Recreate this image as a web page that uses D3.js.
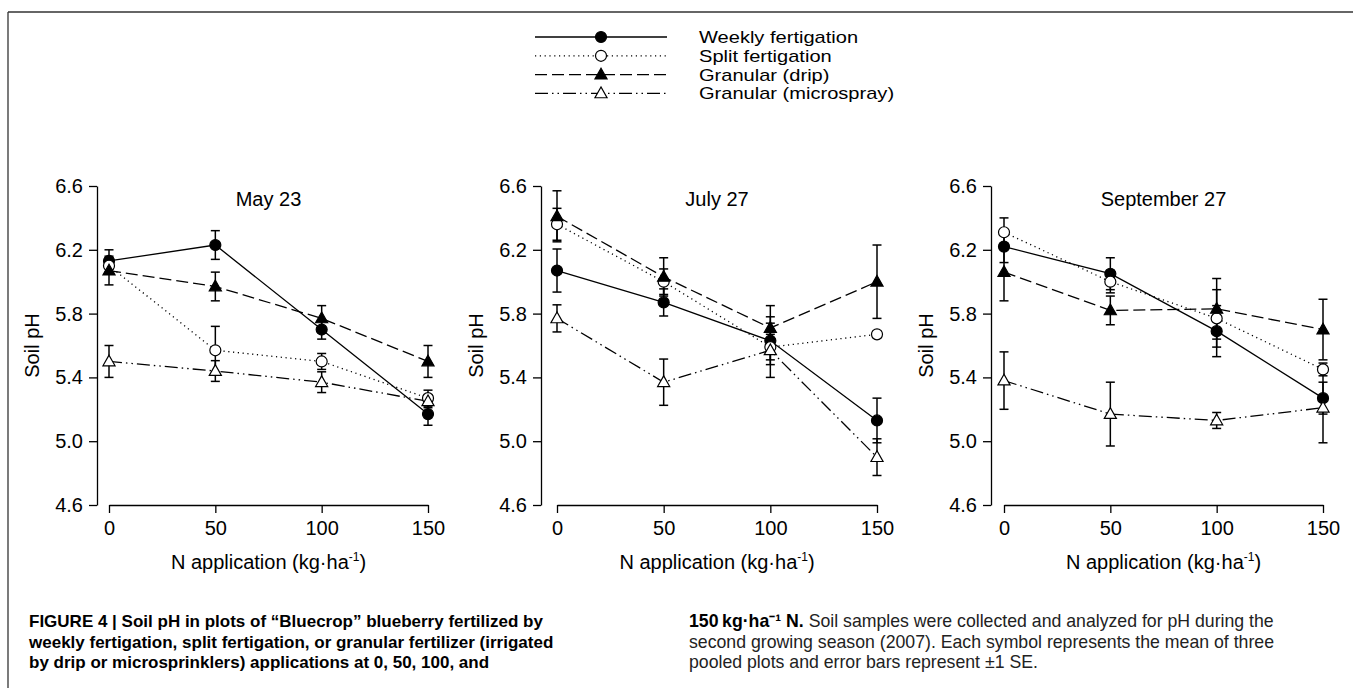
<!DOCTYPE html>
<html>
<head>
<meta charset="utf-8">
<script src="https://cdn.jsdelivr.net/npm/d3@7"></script>
<style>
  html, body { margin: 0; padding: 0; background: #fff; }
  svg { display: block; }
  text { font-family: "Liberation Sans", Arial, Helvetica, sans-serif; fill: #000; }
  .cap { font-family: "Liberation Sans Narrow", "Liberation Sans", Arial, sans-serif; font-stretch: condensed; }
</style>
</head>
<body>
<svg id="chart" width="1353" height="688"></svg>
<script>
// ---------------- data ----------------
const doses = [0, 50, 100, 150];
const xTicks = [0, 50, 100, 150];
const yTicks = [4.6, 5.0, 5.4, 5.8, 6.2, 6.6];
const panelTitles = ["May 23", "July 27", "September 27"];
const seriesNames = ["Weekly fertigation", "Split fertigation", "Granular (drip)", "Granular (microspray)"];

// mean soil pH per panel (rows: weekly, split, drip, microspray)
const may23Means = [
  [6.13, 6.23, 5.70, 5.17],
  [6.10, 5.57, 5.50, 5.27],
  [6.07, 5.97, 5.77, 5.50],
  [5.50, 5.44, 5.37, 5.25]
];
const may23SE = [
  [0.07, 0.09, 0.06, 0.07],
  [0.05, 0.15, 0.05, 0.05],
  [0.09, 0.09, 0.08, 0.10],
  [0.10, 0.065, 0.065, 0.04]
];
const july27Means = [
  [6.07, 5.87, 5.63, 5.13],
  [6.36, 6.00, 5.59, 5.67],
  [6.41, 6.03, 5.71, 6.00],
  [5.77, 5.37, 5.57, 4.90]
];
const july27SE = [
  [0.135, 0.085, 0.15, 0.14],
  [0.10, 0.08, 0.08, 0.02],
  [0.16, 0.12, 0.14, 0.23],
  [0.085, 0.145, 0.17, 0.115]
];
const sep27Means = [
  [6.22, 6.05, 5.69, 5.27],
  [6.31, 6.00, 5.77, 5.45],
  [6.06, 5.82, 5.83, 5.70],
  [5.38, 5.17, 5.13, 5.21]
];
const sep27SE = [
  [0.10, 0.10, 0.16, 0.10],
  [0.09, 0.07, 0.18, 0.04],
  [0.18, 0.09, 0.19, 0.19],
  [0.18, 0.20, 0.05, 0.22]
];

const captionLeft = [
  "FIGURE 4 | Soil pH in plots of \u201cBluecrop\u201d blueberry fertilized by",
  "weekly fertigation, split fertigation, or granular fertilizer (irrigated",
  "by drip or microsprinklers) applications at 0, 50, 100, and"
];
const captionRightBold = "150\u2009kg\u00b7ha\u207b\u00b9 N.";
const captionRight = [
  " Soil samples were collected and analyzed for pH during the",
  "second growing season (2007). Each symbol represents the mean of three",
  "pooled plots and error bars represent \u00b11 SE."
];

// ---------------- styles ----------------
const panelsData = [
  { title: panelTitles[0], means: may23Means, se: may23SE },
  { title: panelTitles[1], means: july27Means, se: july27SE },
  { title: panelTitles[2], means: sep27Means, se: sep27SE }
];
const layout = [
  { axisX: 97, x0: 109, x1: 428 },
  { axisX: 541, x0: 557, x1: 877 },
  { axisX: 991, x0: 1004, x1: 1323 }
];
const yTop = 186, yBot = 505;
const dashes = [null, "1.2,3.6", "12,5", "13,4,1.5,4,1.5,4"];
const markerType = ["circle", "circle", "triangle", "triangle"];
const markerFill = ["#000", "#fff", "#000", "#fff"];

const svg = d3.select("#chart");

// frame (top + left rule)
svg.append("line").attr("x1", 8).attr("x2", 1353).attr("y1", 12).attr("y2", 12)
  .attr("stroke", "#333").attr("stroke-width", 1.3);
svg.append("line").attr("x1", 8).attr("x2", 8).attr("y1", 12).attr("y2", 688)
  .attr("stroke", "#333").attr("stroke-width", 1.3);

function drawMarker(g, type, fill, cx, cy, size) {
  if (type === "circle") {
    g.append("circle").attr("cx", cx).attr("cy", cy).attr("r", size)
      .attr("fill", fill).attr("stroke", "#000").attr("stroke-width", 1.2);
  } else {
    const s = size * 1.1;
    const pts = [[cx, cy - s * 1.05], [cx - s, cy + s * 0.72], [cx + s, cy + s * 0.72]];
    g.append("path").attr("d", "M" + pts.map(p => p.join(",")).join("L") + "Z")
      .attr("fill", fill).attr("stroke", "#000").attr("stroke-width", 1.2);
  }
}

panelsData.forEach((pd, pi) => {
  const L = layout[pi];
  const x = d3.scaleLinear().domain([0, 150]).range([L.x0, L.x1]);
  const y = d3.scaleLinear().domain([4.6, 6.6]).range([yBot, yTop]);
  const g = svg.append("g");

  // y axis
  const ya = g.append("g").attr("transform", `translate(${L.axisX},0)`)
    .call(d3.axisLeft(y).tickValues(yTicks).tickFormat(d3.format(".1f")).tickSize(8).tickSizeOuter(0).tickPadding(6));
  // x axis
  const xa = g.append("g").attr("transform", `translate(0,${yBot})`)
    .call(d3.axisBottom(x).tickValues(xTicks).tickFormat(d3.format("d")).tickSize(8).tickSizeOuter(0).tickPadding(8));
  [ya, xa].forEach(a => {
    a.selectAll("path, line").attr("stroke", "#000").attr("stroke-width", 1.3);
    a.selectAll("text").style("font-size", "20px").attr("fill", "#000")
      .style("font-family", "'Liberation Sans', Arial, sans-serif");
  });

  // title
  g.append("text").attr("x", (L.x0 + L.x1) / 2).attr("y", 206).attr("text-anchor", "middle")
    .style("font-size", "20px").text(pd.title);
  // y label
  g.append("text").attr("transform", `translate(${L.axisX - 58},${(yTop + yBot) / 2}) rotate(-90)`)
    .attr("text-anchor", "middle").style("font-size", "20px").text("Soil pH");
  // x label
  const xl = g.append("text").attr("x", (L.x0 + L.x1) / 2).attr("y", 569).attr("text-anchor", "middle")
    .style("font-size", "20px");
  xl.append("tspan").text("N application (kg\u00b7ha");
  xl.append("tspan").attr("dy", -8).style("font-size", "12px").text("-1");
  xl.append("tspan").attr("dy", 8).text(")");

  const line = d3.line().x((d, i) => x(doses[i])).y(d => y(d));
  // lines
  pd.means.forEach((vals, si) => {
    g.append("path").attr("d", line(vals)).attr("fill", "none").attr("stroke", "#000")
      .attr("stroke-width", 1.3).attr("stroke-dasharray", dashes[si]);
  });
  // error bars
  pd.means.forEach((vals, si) => {
    vals.forEach((v, i) => {
      const e = pd.se[si][i];
      const cx = x(doses[i]);
      g.append("line").attr("x1", cx).attr("x2", cx).attr("y1", y(v - e)).attr("y2", y(v + e))
        .attr("stroke", "#000").attr("stroke-width", 1.5);
      [v - e, v + e].forEach(t => {
        g.append("line").attr("x1", cx - 4.5).attr("x2", cx + 4.5).attr("y1", y(t)).attr("y2", y(t))
          .attr("stroke", "#000").attr("stroke-width", 1.5);
      });
    });
  });
  // markers
  pd.means.forEach((vals, si) => {
    vals.forEach((v, i) => drawMarker(g, markerType[si], markerFill[si], x(doses[i]), y(v), 5.5));
  });
});

// legend
const lg = svg.append("g");
seriesNames.forEach((name, si) => {
  const ly = 37 + si * 18.8;
  lg.append("line").attr("x1", 535).attr("x2", 667).attr("y1", ly).attr("y2", ly)
    .attr("stroke", "#000").attr("stroke-width", 1.3).attr("stroke-dasharray", dashes[si]);
  drawMarker(lg, markerType[si], markerFill[si], 601, ly, 5.5);
  const t = lg.append("text").attr("x", 699).attr("y", ly + 6).style("font-size", "17px").text(name);
  const w = t.node().getComputedTextLength();
  t.attr("textLength", w * 1.18).attr("lengthAdjust", "spacingAndGlyphs");
});

// caption
const capL = svg.append("g");
captionLeft.forEach((t, i) => {
  capL.append("text").attr("class", "cap").attr("x", 29).attr("y", 627 + i * 20.5)
    .style("font-size", "17px").style("font-weight", "bold").text(t);
});
const capR = svg.append("g");
captionRight.forEach((t, i) => {
  const tx = capR.append("text").attr("class", "cap").attr("x", 689).attr("y", 627 + i * 20.5)
    .style("font-size", "17.7px");
  if (i === 0) tx.append("tspan").style("font-weight", "bold").text(captionRightBold);
  tx.append("tspan").attr("fill", "#222").text(t);
});
</script>
</body>
</html>
